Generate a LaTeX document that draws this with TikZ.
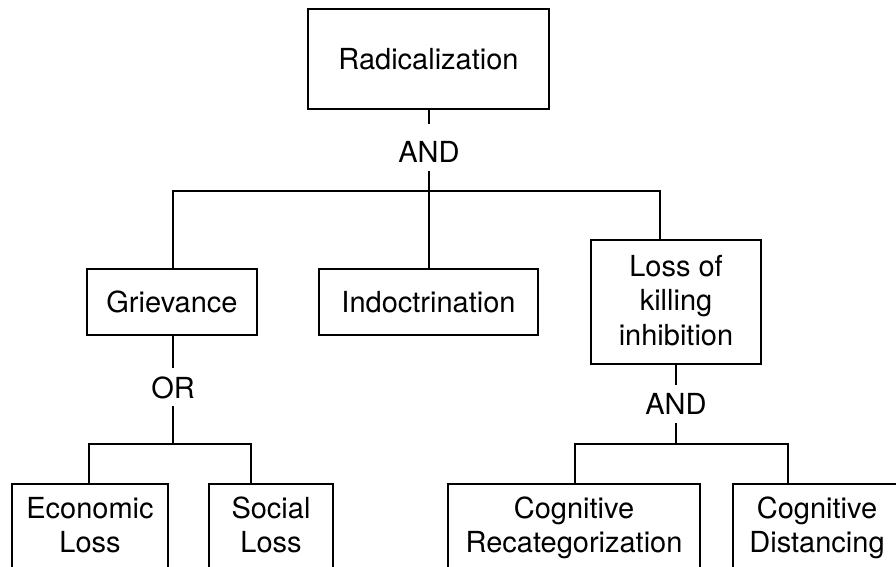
\documentclass[tikz,border=0pt]{standalone}
\usepackage{fontspec}
\setmainfont{TeX Gyre Heros}
\begin{document}
\begin{tikzpicture}[x=1pt,y=-1pt,line width=2pt,
  box/.style={draw, inner xsep=0pt, inner ysep=0pt, anchor=base, font=\fontsize{29}{34.5}\selectfont},
  lbl/.style={inner sep=0pt, anchor=base, font=\fontsize{29}{34.5}\selectfont}]
\useasboundingbox (0,0) rectangle (896,567);
\clip (0,0) rectangle (896,567);
% boxes
\node[box, minimum width=241pt, text height=61pt, text depth=39pt] (rad) at (428.5,70) {Radicalization};
\node[box, minimum width=170pt, text height=43.5pt, text depth=23pt] (griev) at (172,312) {Grievance};
\node[box, minimum width=219pt, text height=43.5pt, text depth=23pt] (indo) at (428.5,312) {Indoctrination};
\node[box, minimum width=170pt, text height=36pt, text depth=88pt] (loss) at (676,276) {\begin{tabular}[t]{@{}c@{}}Loss of\\killing\\inhibition\end{tabular}};
\node[box, minimum width=156pt, text height=34pt, text depth=80pt] (econ) at (90,518) {\begin{tabular}[t]{@{}c@{}}Economic\\Loss\end{tabular}};
\node[box, minimum width=124pt, text height=34pt, text depth=80pt] (social) at (271,518) {\begin{tabular}[t]{@{}c@{}}Social\\Loss\end{tabular}};
\node[box, minimum width=252pt, text height=34pt, text depth=80pt] (recat) at (574,518) {\begin{tabular}[t]{@{}c@{}}Cognitive\\Recategorization\end{tabular}};
\node[box, minimum width=168pt, text height=34pt, text depth=80pt] (dist) at (817,518) {\begin{tabular}[t]{@{}c@{}}Cognitive\\Distancing\end{tabular}};
% gate labels
\node[lbl, text height=37pt, text depth=8pt] (and1) at (429,162) {AND};
\node[lbl, text height=29pt, text depth=7pt] (or) at (173,398) {OR};
\node[lbl, text height=28pt, text depth=8pt] (and2) at (676,414) {AND};
% junction coordinates
\coordinate (tl) at (173,191);
\coordinate (tr) at (660,191);
\coordinate (bl1) at (89,444);
\coordinate (bl2) at (251,444);
\coordinate (br1) at (575,444);
\coordinate (br2) at (788,444);
% connectors top
\draw (rad.south -| and1) -- (and1.north);
\draw (and1.south) -- (indo.north -| and1);
\draw (griev.north -| tl) -- (tl) -- (tr) -- (loss.north -| tr);
% connectors left
\draw (griev.south -| or) -- (or.north);
\draw (or.south) -- (or |- bl1);
\draw (econ.north -| bl1) -- (bl1) -- (bl2) -- (social.north -| bl2);
% connectors right
\draw (loss.south -| and2) -- (and2.north);
\draw (and2.south) -- (and2 |- br1);
\draw (recat.north -| br1) -- (br1) -- (br2) -- (dist.north -| br2);
\end{tikzpicture}
\end{document}
